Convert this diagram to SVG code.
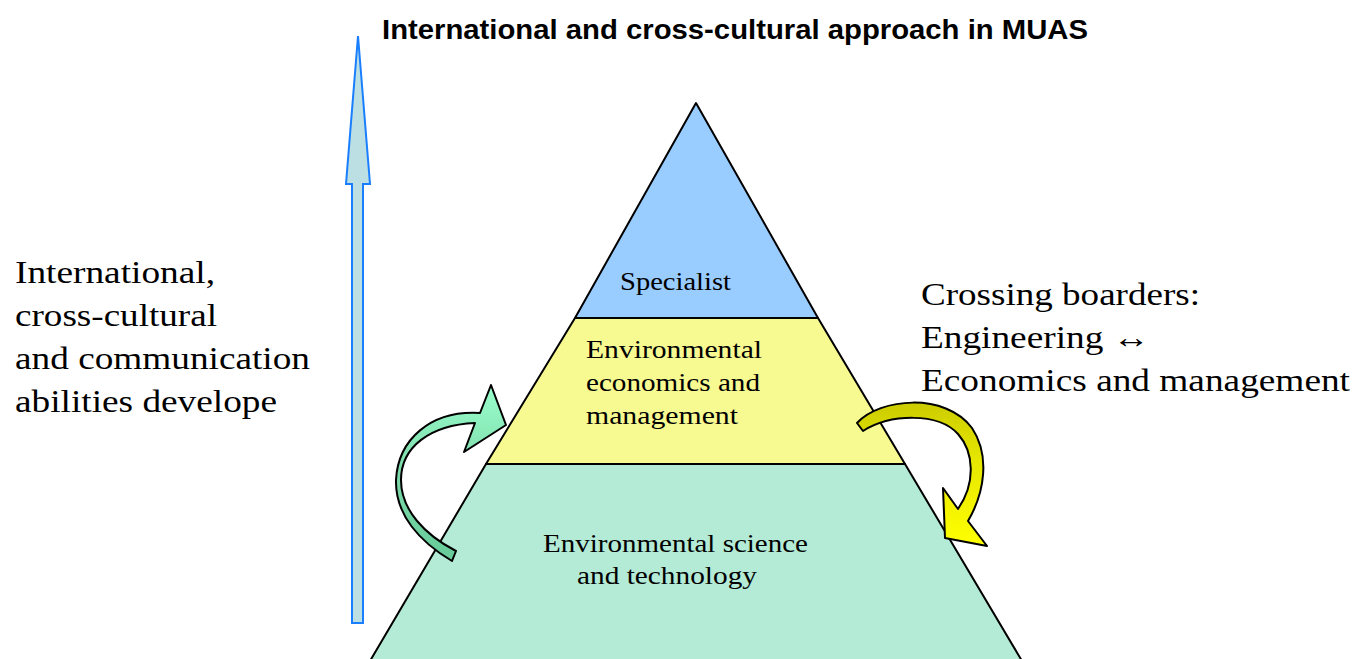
<svg xmlns="http://www.w3.org/2000/svg" width="1356" height="659" viewBox="0 0 1356 659">
<style>
.t{font-family:"Liberation Serif","Times New Roman",serif;fill:#000}
.big{font-size:31px}
.lbl{font-size:26px}
.edge{stroke:#000;stroke-width:2;stroke-linejoin:round}
</style>
<defs>
<linearGradient id="gg" x1="0" y1="1" x2="0" y2="0">
<stop offset="0" stop-color="#66cc99"/><stop offset="0.5" stop-color="#7dd9a9"/><stop offset="1" stop-color="#99ffcc"/>
</linearGradient>
<linearGradient id="yg" x1="0" y1="0" x2="0" y2="1">
<stop offset="0" stop-color="#cccc00"/><stop offset="0.4" stop-color="#e6e600"/><stop offset="1" stop-color="#ffff00"/>
</linearGradient>
</defs>
<rect width="1356" height="659" fill="#fff"/>
<text x="382" y="39" font-family="Liberation Sans,Arial,sans-serif" font-weight="bold" font-size="27" textLength="706" lengthAdjust="spacingAndGlyphs">International and cross-cultural approach in MUAS</text>

<g id="up-arrow">
<path d="M358,36 L370,184 L363,184 L363,623 L352,623 L352,184 L346,184 Z" fill="#bcdfe4" stroke="#1a7fff" stroke-width="2" stroke-linejoin="miter"/>
</g>

<g id="left-text" class="t big">
<text x="15" y="283" textLength="200" lengthAdjust="spacingAndGlyphs">International,</text>
<text x="15" y="326" textLength="202" lengthAdjust="spacingAndGlyphs">cross-cultural</text>
<text x="15" y="369" textLength="295" lengthAdjust="spacingAndGlyphs">and communication</text>
<text x="15" y="412" textLength="262" lengthAdjust="spacingAndGlyphs">abilities develope</text>
</g>

<g id="right-text" class="t big">
<text x="921" y="305" textLength="279" lengthAdjust="spacingAndGlyphs">Crossing boarders:</text>
<text x="921" y="348" textLength="229" lengthAdjust="spacingAndGlyphs">Engineering ↔</text>
<text x="921" y="391" textLength="429" lengthAdjust="spacingAndGlyphs">Economics and management</text>
</g>

<g id="level-science">
<path d="M486,464 L905,464 L1022,661 L370,661 Z" fill="#b4ebd6" class="edge"/>
<text class="t lbl" x="543" y="552" textLength="265" lengthAdjust="spacingAndGlyphs">Environmental science</text>
<text class="t lbl" x="577" y="584" textLength="180" lengthAdjust="spacingAndGlyphs">and technology</text>
</g>
<g id="level-economics">
<path d="M575,318 L818,318 L905,464 L486,464 Z" fill="#f7f991" class="edge"/>
<text class="t lbl" x="586" y="358" textLength="176" lengthAdjust="spacingAndGlyphs">Environmental</text>
<text class="t lbl" x="586" y="391" textLength="174" lengthAdjust="spacingAndGlyphs">economics and</text>
<text class="t lbl" x="586" y="424" textLength="152" lengthAdjust="spacingAndGlyphs">management</text>
</g>
<g id="level-specialist">
<path d="M696,103 L818,318 L575,318 Z" fill="#99ccff" class="edge"/>
<text class="t lbl" x="620" y="290" textLength="111" lengthAdjust="spacingAndGlyphs">Specialist</text>
</g>

<g id="connectors">
<path d="M480,413 C430,410 398,440 396,480 C395,515 420,542 452,561 L456,551 C425,535 401,510 401,480 C401,447 430,425 475,423 L464,452 L506,425 L491,385 Z" fill="url(#gg)" class="edge"/>
<path d="M857,423 C880,398 945,392 972,428 C990,455 985,492 968,521 L987,546 L945,538 L943,488 L958,509 C976,483 974,452 958,434 C938,412 890,414 863,431 Z" fill="url(#yg)" class="edge"/>
</g>
</svg>
